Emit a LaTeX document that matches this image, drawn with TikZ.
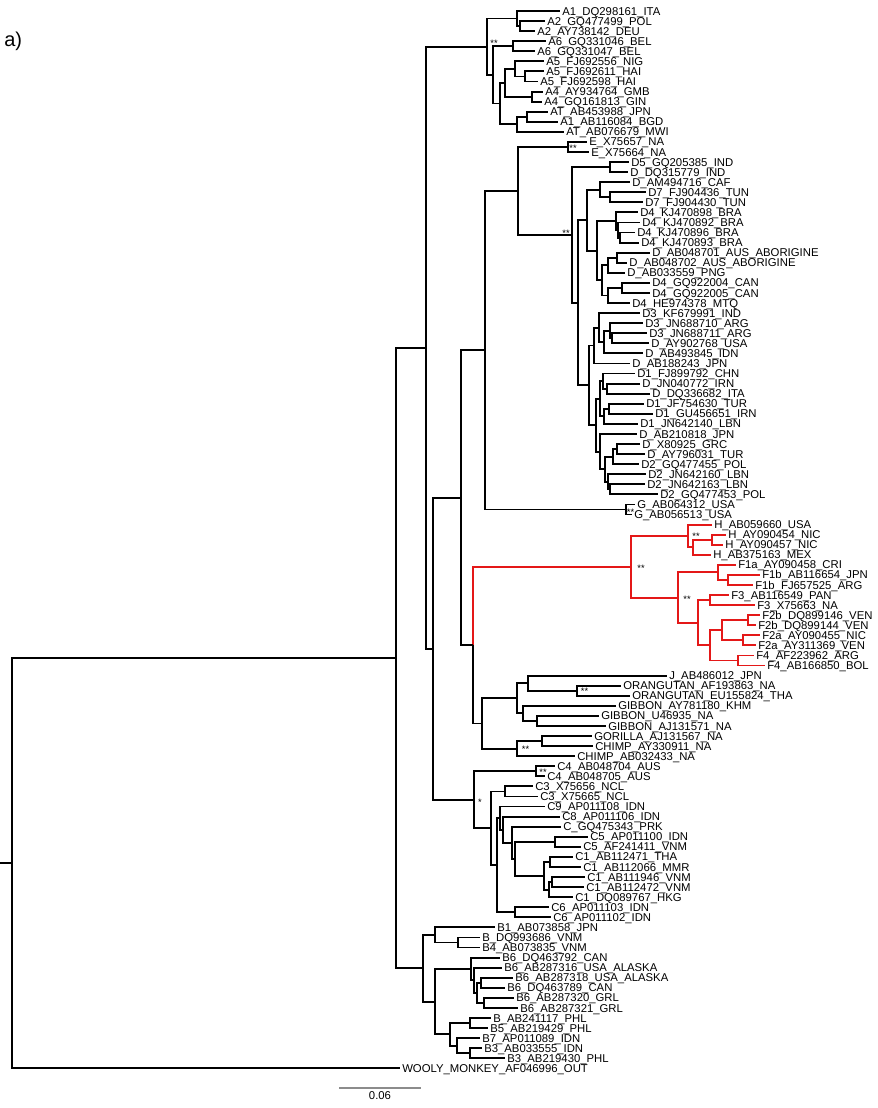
\documentclass[tikz,border=0pt]{standalone}
\usepackage{fontspec}
\newfontfamily\arialf{Liberation Sans}
\definecolor{cladered}{RGB}{228,24,24}
\newcommand{\labfont}{\arialf\fontsize{8.5}{10}\selectfont}
\newcommand{\supfont}{\arialf\fontsize{7}{8}\selectfont}
\newcommand{\leafnode}[3]{\node[lab] (l#1) at (#2,{11+10.07*#1}) {#3};}
\newcommand{\inode}[3]{\coordinate (#1) at (#2,{11+10.07*#3});}
\newcommand{\kid}[3][br]{\draw[#1] (#2) |- (#3);}
\tikzset{
  br/.style={line width=1.4pt, draw=black},
  rbr/.style={line width=1.4pt, draw=cladered},
  lab/.style={anchor=west, inner sep=1.5pt, text height=6.1pt, text depth=0pt, font=\labfont},
  sup/.style={anchor=base, inner sep=0pt, font=\supfont},
  scalebar/.style={line width=0.8pt, draw=black!45},
}
\begin{document}
\begin{tikzpicture}[x=0.75pt,y=-0.75pt]
\useasboundingbox (0,0) rectangle (878,1108);
\node[anchor=base west, inner sep=0pt, font=\arialf\fontsize{15}{17}\selectfont] (title) at (4,46) {a)};
% ---------------- leaves
\leafnode{0}{560}{A1\_DQ298161\_ITA}
\leafnode{1}{545}{A2\_GQ477499\_POL}
\leafnode{2}{535}{A2\_AY738142\_DEU}
\leafnode{3}{546}{A6\_GQ331046\_BEL}
\leafnode{4}{535}{A6\_GQ331047\_BEL}
\leafnode{5}{544}{A5\_FJ692556\_NIG}
\leafnode{6}{544}{A5\_FJ692611\_HAI}
\leafnode{7}{538}{A5\_FJ692598\_HAI}
\leafnode{8}{543}{A4\_AY934764\_GMB}
\leafnode{9}{542}{A4\_GQ161813\_GIN}
\leafnode{10}{548}{AT\_AB453988\_JPN}
\leafnode{11}{558}{A1\_AB116084\_BGD}
\leafnode{12}{564}{AT\_AB076679\_MWI}
\leafnode{13}{587}{E\_X75657\_NA}
\leafnode{14}{589}{E\_X75664\_NA}
\leafnode{15}{629}{D5\_GQ205385\_IND}
\leafnode{16}{628}{D\_DQ315779\_IND}
\leafnode{17}{630}{D\_AM494716\_CAF}
\leafnode{18}{646}{D7\_FJ904436\_TUN}
\leafnode{19}{643}{D7\_FJ904430\_TUN}
\leafnode{20}{638}{D4\_KJ470898\_BRA}
\leafnode{21}{640}{D4\_KJ470892\_BRA}
\leafnode{22}{635}{D4\_KJ470896\_BRA}
\leafnode{23}{639}{D4\_KJ470893\_BRA}
\leafnode{24}{650}{D\_AB048701\_AUS\_ABORIGINE}
\leafnode{25}{627}{D\_AB048702\_AUS\_ABORIGINE}
\leafnode{26}{625}{D\_AB033559\_PNG}
\leafnode{27}{650}{D4\_GQ922004\_CAN}
\leafnode{28}{650}{D4\_GQ922005\_CAN}
\leafnode{29}{630}{D4\_HE974378\_MTQ}
\leafnode{30}{640}{D3\_KF679991\_IND}
\leafnode{31}{643}{D3\_JN688710\_ARG}
\leafnode{32}{647}{D3\_JN688711\_ARG}
\leafnode{33}{649}{D\_AY902768\_USA}
\leafnode{34}{643}{D\_AB493845\_IDN}
\leafnode{35}{630}{D\_AB188243\_JPN}
\leafnode{36}{635}{D1\_FJ899792\_CHN}
\leafnode{37}{640}{D\_JN040772\_IRN}
\leafnode{38}{650}{D\_DQ336682\_ITA}
\leafnode{39}{644}{D1\_JF754630\_TUR}
\leafnode{40}{653}{D1\_GU456651\_IRN}
\leafnode{41}{638}{D1\_JN642140\_LBN}
\leafnode{42}{637}{D\_AB210818\_JPN}
\leafnode{43}{640}{D\_X80925\_GRC}
\leafnode{44}{645}{D\_AY796031\_TUR}
\leafnode{45}{639}{D2\_GQ477455\_POL}
\leafnode{46}{646}{D2\_JN642160\_LBN}
\leafnode{47}{645}{D2\_JN642163\_LBN}
\leafnode{48}{658}{D2\_GQ477453\_POL}
\leafnode{49}{635}{G\_AB064312\_USA}
\leafnode{50}{632}{G\_AB056513\_USA}
\leafnode{51}{712}{H\_AB059660\_USA}
\leafnode{52}{726}{H\_AY090454\_NIC}
\leafnode{53}{723}{H\_AY090457\_NIC}
\leafnode{54}{711}{H\_AB375163\_MEX}
\leafnode{55}{736}{F1a\_AY090458\_CRI}
\leafnode{56}{760}{F1b\_AB116654\_JPN}
\leafnode{57}{753}{F1b\_FJ657525\_ARG}
\leafnode{58}{729}{F3\_AB116549\_PAN}
\leafnode{59}{755}{F3\_X75663\_NA}
\leafnode{60}{760}{F2b\_DQ899146\_VEN}
\leafnode{61}{756}{F2b\_DQ899144\_VEN}
\leafnode{62}{760}{F2a\_AY090455\_NIC}
\leafnode{63}{756}{F2a\_AY311369\_VEN}
\leafnode{64}{754}{F4\_AF223962\_ARG}
\leafnode{65}{765}{F4\_AB166850\_BOL}
\leafnode{66}{667}{J\_AB486012\_JPN}
\leafnode{67}{621}{ORANGUTAN\_AF193863\_NA}
\leafnode{68}{630}{ORANGUTAN\_EU155824\_THA}
\leafnode{69}{616}{GIBBON\_AY781180\_KHM}
\leafnode{70}{599}{GIBBON\_U46935\_NA}
\leafnode{71}{606}{GIBBON\_AJ131571\_NA}
\leafnode{72}{592}{GORILLA\_AJ131567\_NA}
\leafnode{73}{593}{CHIMP\_AY330911\_NA}
\leafnode{74}{575}{CHIMP\_AB032433\_NA}
\leafnode{75}{555}{C4\_AB048704\_AUS}
\leafnode{76}{545}{C4\_AB048705\_AUS}
\leafnode{77}{533}{C3\_X75656\_NCL}
\leafnode{78}{538}{C3\_X75665\_NCL}
\leafnode{79}{545}{C9\_AP011108\_IDN}
\leafnode{80}{560}{C8\_AP011106\_IDN}
\leafnode{81}{561}{C\_GQ475343\_PRK}
\leafnode{82}{588}{C5\_AP011100\_IDN}
\leafnode{83}{581}{C5\_AF241411\_VNM}
\leafnode{84}{573}{C1\_AB112471\_THA}
\leafnode{85}{581}{C1\_AB112066\_MMR}
\leafnode{86}{585}{C1\_AB111946\_VNM}
\leafnode{87}{584}{C1\_AB112472\_VNM}
\leafnode{88}{573}{C1\_DQ089767\_HKG}
\leafnode{89}{549}{C6\_AP011103\_IDN}
\leafnode{90}{551}{C6\_AP011102\_IDN}
\leafnode{91}{495}{B1\_AB073858\_JPN}
\leafnode{92}{480}{B\_DQ993686\_VNM}
\leafnode{93}{480}{B4\_AB073835\_VNM}
\leafnode{94}{500}{B6\_DQ463792\_CAN}
\leafnode{95}{502}{B6\_AB287316\_USA\_ALASKA}
\leafnode{96}{513}{B6\_AB287318\_USA\_ALASKA}
\leafnode{97}{505}{B6\_DQ463789\_CAN}
\leafnode{98}{514}{B6\_AB287320\_GRL}
\leafnode{99}{518}{B6\_AB287321\_GRL}
\leafnode{100}{491}{B\_AB241117\_PHL}
\leafnode{101}{488}{B5\_AB219429\_PHL}
\leafnode{102}{480}{B7\_AP011089\_IDN}
\leafnode{103}{482}{B3\_AB033555\_IDN}
\leafnode{104}{505}{B3\_AB219430\_PHL}
\leafnode{105}{400}{WOOLY\_MONKEY\_AF046996\_OUT}
% ---------------- internal nodes
% A
\inode{nA2}{520}{1.5}
\inode{nA12}{517}{0.75}
\inode{nA6}{513}{3.5}
\inode{nA5b}{525}{6.5}
\inode{nA5}{515}{5.75}
\inode{nA4}{532}{8.5}
\inode{nA54}{505}{7.125}
\inode{nAT1}{527}{10.5}
\inode{nAT}{517}{11.25}
\inode{nA500}{500}{9.1875}
\inode{nA493}{493}{6.34375}
\inode{nA}{487}{3.546875}
% E, D, G
\inode{nE}{568}{13.5}
\inode{nD5}{610}{15.5}
\inode{nD7}{610}{18.5}
\inode{nAMD7}{600}{17.75}
\inode{nKJa}{620}{22.5}
\inode{nKJb}{618}{21.75}
\inode{nKJ}{616}{20.875}
\inode{nAUSa}{617}{24.5}
\inode{nAUS}{608}{25.25}
\inode{nCAN}{622}{27.5}
\inode{nCANg}{608}{28.25}
\inode{nAC}{602}{26.75}
\inode{nKJAC}{597}{23.8125}
\inode{nDup}{587}{20.78125}
\inode{nD3c}{612}{32.5}
\inode{nD3b}{610}{31.75}
\inode{nD3g}{604}{32.875}
\inode{nD3a}{599}{31.4375}
\inode{nD3}{594}{33.21875}
\inode{nD1a}{607}{37.5}
\inode{nD1b}{603}{36.75}
\inode{nD1c}{609}{39.5}
\inode{nD1d}{604}{40.25}
\inode{nD1}{600}{38.5}
\inode{nD2a}{617}{43.5}
\inode{nD2b}{613}{44.25}
\inode{nD2p}{610}{47.5}
\inode{nD2c}{608}{46.75}
\inode{nD2d}{605}{45.5}
\inode{nD2}{600}{43.75}
\inode{nD12}{596}{41.125}
\inode{nDlow}{589}{37.171875}
\inode{nDrest}{578}{28.9765625}
\inode{nD}{572}{22.23828125}
\inode{nED}{518}{17.869140625}
\inode{nG}{626}{49.5}
\inode{nEDG}{485}{33.6845703}
% H, F (red)
\inode{nHp}{712}{52.5}
\inode{nHb}{693}{53.25}
\inode{nH}{688}{52.125}
\inode{nF1b}{728}{56.5}
\inode{nF1}{718}{55.75}
\inode{nF3}{710}{58.5}
\inode{nF2b}{748}{60.5}
\inode{nF2a}{743}{62.5}
\inode{nF2}{722}{61.5}
\inode{nF4}{738}{64.5}
\inode{nF24}{710}{63}
\inode{nF234}{698}{60.75}
\inode{nF}{678}{58.25}
\inode{nHF}{631}{55.1875}
% apes
\inode{nOR}{577}{67.5}
\inode{nJOR}{528}{66.75}
\inode{nGIBp}{537}{70.5}
\inode{nGIB}{523}{69.75}
\inode{nApeA}{517}{68.25}
\inode{nGC}{542}{72.5}
\inode{nCH}{517}{73.25}
\inode{nApe}{482}{70.75}
\inode{n473}{473}{62.96875}
\inode{n461}{461}{48.32666}
% C
\inode{nC4}{536}{75.5}
\inode{nC3}{505}{77.5}
\inode{nC5}{555}{82.5}
\inode{nC1p}{550}{84.5}
\inode{nC1q}{552}{86.5}
\inode{nC1r}{549}{87.25}
\inode{nC1}{544}{85.875}
\inode{nC51}{515}{84.1875}
\inode{nCGQ}{512}{82.59375}
\inode{nC8}{503}{81.296875}
\inode{nC9}{500}{80.1484375}
\inode{nC6}{515}{89.5}
\inode{nC96}{497}{84.82421875}
\inode{nCr}{491}{81.162109375}
\inode{nC}{474}{78.3310546875}
\inode{n433}{433}{63.328857}
\inode{n426}{426}{33.437866}
% B
\inode{nBp}{458}{92.5}
\inode{nB1}{435}{91.75}
\inode{nB6p}{481}{96.5}
\inode{nB6q}{484}{98.5}
\inode{nB6c}{477}{97.5}
\inode{nB6b}{474}{96.25}
\inode{nB6}{471}{95.125}
\inode{nB35p}{470}{100.5}
\inode{nB3p}{470}{103.5}
\inode{nB7}{457}{102.75}
\inode{nB35}{450}{101.625}
\inode{nBr}{435}{98.375}
\inode{nB}{423}{95.0625}
\inode{n396}{396}{64.250183}
\inode{root}{12}{84.625}
\inode{stub}{0}{84.625}
% ---------------- connectors
% A
\kid{nA2}{l1.west} \kid{nA2}{l2.west}
\kid{nA12}{l0.west} \kid{nA12}{nA2}
\kid{nA6}{l3.west} \kid{nA6}{l4.west}
\kid{nA5b}{l6.west} \kid{nA5b}{l7.west}
\kid{nA5}{l5.west} \kid{nA5}{nA5b}
\kid{nA4}{l8.west} \kid{nA4}{l9.west}
\kid{nA54}{nA5} \kid{nA54}{nA4}
\kid{nAT1}{l10.west} \kid{nAT1}{l11.west}
\kid{nAT}{nAT1} \kid{nAT}{l12.west}
\kid{nA500}{nA54} \kid{nA500}{nAT}
\kid{nA493}{nA6} \kid{nA493}{nA500}
\kid{nA}{nA12} \kid{nA}{nA493}
% E D G
\kid{nE}{l13.west} \kid{nE}{l14.west}
\kid{nD5}{l15.west} \kid{nD5}{l16.west}
\kid{nD7}{l18.west} \kid{nD7}{l19.west}
\kid{nAMD7}{l17.west} \kid{nAMD7}{nD7}
\kid{nKJa}{l22.west} \kid{nKJa}{l23.west}
\kid{nKJb}{l21.west} \kid{nKJb}{nKJa}
\kid{nKJ}{l20.west} \kid{nKJ}{nKJb}
\kid{nAUSa}{l24.west} \kid{nAUSa}{l25.west}
\kid{nAUS}{nAUSa} \kid{nAUS}{l26.west}
\kid{nCAN}{l27.west} \kid{nCAN}{l28.west}
\kid{nCANg}{nCAN} \kid{nCANg}{l29.west}
\kid{nAC}{nAUS} \kid{nAC}{nCANg}
\kid{nKJAC}{nKJ} \kid{nKJAC}{nAC}
\kid{nDup}{nAMD7} \kid{nDup}{nKJAC}
\kid{nD3c}{l32.west} \kid{nD3c}{l33.west}
\kid{nD3b}{l31.west} \kid{nD3b}{nD3c}
\kid{nD3g}{nD3b} \kid{nD3g}{l34.west}
\kid{nD3a}{l30.west} \kid{nD3a}{nD3g}
\kid{nD3}{nD3a} \kid{nD3}{l35.west}
\kid{nD1a}{l37.west} \kid{nD1a}{l38.west}
\kid{nD1b}{l36.west} \kid{nD1b}{nD1a}
\kid{nD1c}{l39.west} \kid{nD1c}{l40.west}
\kid{nD1d}{nD1c} \kid{nD1d}{l41.west}
\kid{nD1}{nD1b} \kid{nD1}{nD1d}
\kid{nD2a}{l43.west} \kid{nD2a}{l44.west}
\kid{nD2b}{nD2a} \kid{nD2b}{l45.west}
\kid{nD2p}{l47.west} \kid{nD2p}{l48.west}
\kid{nD2c}{l46.west} \kid{nD2c}{nD2p}
\kid{nD2d}{nD2b} \kid{nD2d}{nD2c}
\kid{nD2}{l42.west} \kid{nD2}{nD2d}
\kid{nD12}{nD1} \kid{nD12}{nD2}
\kid{nDlow}{nD3} \kid{nDlow}{nD12}
\kid{nDrest}{nDup} \kid{nDrest}{nDlow}
\kid{nD}{nD5} \kid{nD}{nDrest}
\kid{nED}{nE} \kid{nED}{nD}
\kid{nG}{l49.west} \kid{nG}{l50.west}
\kid{nEDG}{nED} \kid{nEDG}{nG}
% red clade
\kid[rbr]{nHp}{l52.west} \kid[rbr]{nHp}{l53.west}
\kid[rbr]{nHb}{nHp} \kid[rbr]{nHb}{l54.west}
\kid[rbr]{nH}{l51.west} \kid[rbr]{nH}{nHb}
\kid[rbr]{nF1b}{l56.west} \kid[rbr]{nF1b}{l57.west}
\kid[rbr]{nF1}{l55.west} \kid[rbr]{nF1}{nF1b}
\kid[rbr]{nF3}{l58.west} \kid[rbr]{nF3}{l59.west}
\kid[rbr]{nF2b}{l60.west} \kid[rbr]{nF2b}{l61.west}
\kid[rbr]{nF2a}{l62.west} \kid[rbr]{nF2a}{l63.west}
\kid[rbr]{nF2}{nF2b} \kid[rbr]{nF2}{nF2a}
\kid[rbr]{nF4}{l64.west} \kid[rbr]{nF4}{l65.west}
\kid[rbr]{nF24}{nF2} \kid[rbr]{nF24}{nF4}
\kid[rbr]{nF234}{nF3} \kid[rbr]{nF234}{nF24}
\kid[rbr]{nF}{nF1} \kid[rbr]{nF}{nF234}
\kid[rbr]{nHF}{nH} \kid[rbr]{nHF}{nF}
% apes
\kid{nOR}{l67.west} \kid{nOR}{l68.west}
\kid{nJOR}{l66.west} \kid{nJOR}{nOR}
\kid{nGIBp}{l70.west} \kid{nGIBp}{l71.west}
\kid{nGIB}{l69.west} \kid{nGIB}{nGIBp}
\kid{nApeA}{nJOR} \kid{nApeA}{nGIB}
\kid{nGC}{l72.west} \kid{nGC}{l73.west}
\kid{nCH}{nGC} \kid{nCH}{l74.west}
\kid{nApe}{nApeA} \kid{nApe}{nCH}
\kid[rbr]{n473}{nHF} \kid{n473}{nApe}
\kid{n461}{nEDG} \kid{n461}{n473}
% C
\kid{nC4}{l75.west} \kid{nC4}{l76.west}
\kid{nC3}{l77.west} \kid{nC3}{l78.west}
\kid{nC5}{l82.west} \kid{nC5}{l83.west}
\kid{nC1p}{l84.west} \kid{nC1p}{l85.west}
\kid{nC1q}{l86.west} \kid{nC1q}{l87.west}
\kid{nC1r}{nC1q} \kid{nC1r}{l88.west}
\kid{nC1}{nC1p} \kid{nC1}{nC1r}
\kid{nC51}{nC5} \kid{nC51}{nC1}
\kid{nCGQ}{l81.west} \kid{nCGQ}{nC51}
\kid{nC8}{l80.west} \kid{nC8}{nCGQ}
\kid{nC9}{l79.west} \kid{nC9}{nC8}
\kid{nC6}{l89.west} \kid{nC6}{l90.west}
\kid{nC96}{nC9} \kid{nC96}{nC6}
\kid{nCr}{nC3} \kid{nCr}{nC96}
\kid{nC}{nC4} \kid{nC}{nCr}
\kid{n433}{n461} \kid{n433}{nC}
\kid{n426}{nA} \kid{n426}{n433}
% B
\kid{nBp}{l92.west} \kid{nBp}{l93.west}
\kid{nB1}{l91.west} \kid{nB1}{nBp}
\kid{nB6p}{l96.west} \kid{nB6p}{l97.west}
\kid{nB6q}{l98.west} \kid{nB6q}{l99.west}
\kid{nB6c}{nB6p} \kid{nB6c}{nB6q}
\kid{nB6b}{l95.west} \kid{nB6b}{nB6c}
\kid{nB6}{l94.west} \kid{nB6}{nB6b}
\kid{nB35p}{l100.west} \kid{nB35p}{l101.west}
\kid{nB3p}{l103.west} \kid{nB3p}{l104.west}
\kid{nB7}{l102.west} \kid{nB7}{nB3p}
\kid{nB35}{nB35p} \kid{nB35}{nB7}
\kid{nBr}{nB6} \kid{nBr}{nB35}
\kid{nB}{nB1} \kid{nB}{nBr}
\kid{n396}{n426} \kid{n396}{nB}
\kid{root}{n396} \kid{root}{l105.west}
\draw[br] (stub) -- (root);
% ---------------- support values
\node[sup] (sA) at (494,46.5) {**};
\node[sup] (sE) at (573,151.5) {**};
\node[sup] (sD) at (566,236.5) {**};
\node[sup] (sG) at (630.5,515.5) {**};
\node[sup] (sH) at (696,539.5) {**};
\node[sup] (sHF) at (641,571.5) {**};
\node[sup] (sF) at (687,602.5) {**};
\node[sup] (sOR) at (584.5,694.5) {**};
\node[sup] (sCH) at (525.5,752.5) {**};
\node[sup] (sC4) at (543,775) {**};
\node[sup] (sC) at (480,805.5) {*};
% ---------------- scale bar
\coordinate (sb1) at (339,1088);
\coordinate (sb2) at (421,1088);
\draw[scalebar] (sb1) -- (sb2);
\node[font=\labfont, anchor=north, inner sep=1pt] (sbt) at (380,1090) {0.06};
\end{tikzpicture}
\end{document}
